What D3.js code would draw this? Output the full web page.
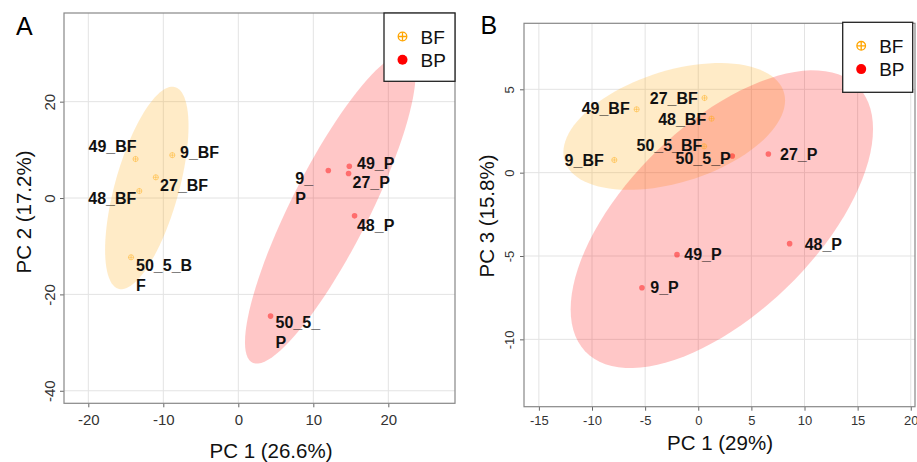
<!DOCTYPE html>
<html>
<head>
<meta charset="utf-8" />
<title>PCA BF vs BP</title>
<script src="https://cdnjs.cloudflare.com/ajax/libs/d3/7.8.5/d3.min.js"></script>
<style>
  body { margin: 0; background: #fff; }
  svg { font-family: "Liberation Sans", Arial, sans-serif; }
</style>
</head>
<body>
<svg id="chart" width="917" height="462"></svg>
<script>
// sample ids, same order in every array below
const samples = ["9", "27", "48", "49", "50_5"]
const groups = ["BF", "BP"]

// panel A : PC1 (26.6%) vs PC2 (17.2%)
const pcA_BF_x = [-8.8, -11.0, -13.2, -13.7, -14.3]
const pcA_BF_y = [8.9, 4.3, 1.45, 8.1, -12.3]
const pcA_BP_x = [12.0, 14.7, 15.5, 14.8, 4.3]
const pcA_BP_y = [5.7, 5.1, -3.7, 6.6, -24.5]
const labelsA_BF = ["9_BF", "27_BF", "48_BF", "49_BF", "50_5_B\nF"]
const labelsA_BP = ["9_\nP", "27_P", "48_P", "49_P", "50_5_\nP"]

// panel B : PC1 (29%) vs PC3 (15.8%)
const pcB_BF_x = [-7.9, 0.59, 1.25, -5.8, 0.55]
const pcB_BF_y = [0.76, 4.48, 3.24, 3.8, 1.58]
const pcB_BP_x = [-5.3, 6.6, 8.6, -2.0, 3.2]
const pcB_BP_y = [-6.9, 1.12, -4.26, -4.92, 1.0]
const labelsB_BF = ["9_BF", "27_BF", "48_BF", "49_BF", "50_5_BF"]
const labelsB_BP = ["9_P", "27_P", "48_P", "49_P", "50_5_P"]

const ticksA_x = [-20, -10, 0, 10, 20]
const ticksA_y = [-40, -20, 0, 20]
const ticksB_x = [-15, -10, -5, 0, 5, 10, 15, 20]
const ticksB_y = [-10, -5, 0, 5]

// label nudges in px (text start, first baseline) — repel-style placement
const nudgeA = {
  BF: [[7.7, 2.7], [4.3, 13.7], [-51, 13], [-47, -7], [5, 13.4]],
  BP: [[-33, 13.3], [4, 14.4], [2.4, 15], [7.7, 2.3], [5, 12]]
}
const nudgeB = {
  BF: [[-49.7, 6], [-54.7, 6.3], [-53.4, 6.7], [-55, 5], [-67.6, 4.7]],
  BP: [[8.3, 5.4], [11.7, 6.3], [15, 6], [7.3, 5.7], [-56.7, 7.6]]
}

const colors = { BF: "#FFA500", BP: "#FF0000" }
const chi95 = Math.sqrt(5.991465) // sqrt(qchisq(0.95, 2))

const svg = d3.select("#chart")

function ellipsePoints(xs, ys) {
  let n = xs.length
  let mx = d3.mean(xs), my = d3.mean(ys)
  let sxx = d3.sum(xs, d => (d - mx) * (d - mx)) / (n - 1)
  let syy = d3.sum(ys, d => (d - my) * (d - my)) / (n - 1)
  let sxy = d3.sum(xs.map((d, i) => (d - mx) * (ys[i] - my))) / (n - 1)
  let a = Math.sqrt(sxx), b = sxy / a, c = Math.sqrt(syy - b * b)
  return d3.range(0, 100).map(i => {
    let t = i / 100 * 2 * Math.PI
    let u = Math.cos(t), v = Math.sin(t)
    return [mx + chi95 * a * u, my + chi95 * (b * u + c * v)]
  })
}

function drawPanel(cfg) {
  let g = svg.append("g")
  let x = d3.scaleLinear().domain(cfg.xDomain).range([cfg.left, cfg.right])
  let y = d3.scaleLinear().domain(cfg.yDomain).range([cfg.bottom, cfg.top])

  g.append("clipPath").attr("id", "clip" + cfg.id)
    .append("rect")
    .attr("x", cfg.left).attr("y", cfg.top)
    .attr("width", cfg.right - cfg.left).attr("height", cfg.bottom - cfg.top)

  // grid
  g.selectAll(".vgrid").data(cfg.xTicks).enter().append("line")
    .attr("x1", d => x(d)).attr("x2", d => x(d))
    .attr("y1", cfg.top).attr("y2", cfg.bottom)
    .attr("stroke", "#e3e3e3").attr("stroke-width", 1)
  g.selectAll(".hgrid").data(cfg.yTicks).enter().append("line")
    .attr("x1", cfg.left).attr("x2", cfg.right)
    .attr("y1", d => y(d)).attr("y2", d => y(d))
    .attr("stroke", "#e3e3e3").attr("stroke-width", 1)

  let plot = g.append("g").attr("clip-path", "url(#clip" + cfg.id + ")")
  let line = d3.line().x(d => x(d[0])).y(d => y(d[1])).curve(d3.curveLinearClosed)

  // ellipses
  groups.forEach(grp => {
    plot.append("path")
      .attr("d", line(ellipsePoints(cfg.data[grp].x, cfg.data[grp].y)))
      .attr("fill", colors[grp]).attr("fill-opacity", 0.22)
      .attr("stroke", "none")
  })

  // points
  groups.forEach(grp => {
    let pts = cfg.data[grp].x.map((d, i) => [d, cfg.data[grp].y[i]])
    if (grp === "BF") {
      let s = plot.selectAll(".bf").data(pts).enter().append("g")
        .attr("transform", d => "translate(" + x(d[0]) + "," + y(d[1]) + ")")
        .attr("stroke", colors.BF).attr("stroke-opacity", 0.45)
        .attr("fill", "none").attr("stroke-width", 0.9)
      s.append("circle").attr("r", 2.6)
      s.append("path").attr("d", "M-2.6,0H2.6M0,-2.6V2.6")
    } else {
      plot.selectAll(".bp").data(pts).enter().append("circle")
        .attr("cx", d => x(d[0])).attr("cy", d => y(d[1]))
        .attr("r", 2.8).attr("fill", colors.BP).attr("fill-opacity", 0.45)
    }
  })

  // labels
  groups.forEach(grp => {
    let pts = cfg.data[grp].x.map((d, i) => [d, cfg.data[grp].y[i]])
    pts.forEach((p, i) => {
      let nd = cfg.nudge[grp][i]
      let t = g.append("text")
        .attr("x", x(p[0]) + nd[0]).attr("y", y(p[1]) + nd[1])
        .attr("font-size", 16).attr("font-weight", "bold").attr("fill", "#111")
      cfg.data[grp].labels[i].split("\n").forEach((s, k) => {
        t.append("tspan").attr("x", x(p[0]) + nd[0])
          .attr("dy", k === 0 ? 0 : 20).text(s)
      })
    })
  })

  // axes (plain hyphen minus like the original)
  let fmt = d => String(d)
  let xAxis = d3.axisBottom(x).tickValues(cfg.xTicks).tickFormat(fmt).tickSize(4).tickPadding(3)
  let ax = g.append("g").attr("transform", "translate(0," + cfg.bottom + ")").call(xAxis)
  ax.select(".domain").remove()
  ax.selectAll("line").attr("stroke", "#666")
  ax.selectAll("text").attr("font-size", cfg.tickSize).attr("fill", "#333")
    .attr("font-family", "Liberation Sans, Arial, sans-serif")
    .attr("dy", null).attr("y", cfg.xTickBase - cfg.bottom)

  let yAxis = d3.axisLeft(y).tickValues(cfg.yTicks).tickFormat(fmt).tickSize(4)
  let ay = g.append("g").attr("transform", "translate(" + cfg.left + ",0)").call(yAxis)
  ay.select(".domain").remove()
  ay.selectAll("line").attr("stroke", "#666")
  ay.selectAll("text").attr("font-size", cfg.tickSize).attr("fill", "#333")
    .attr("font-family", "Liberation Sans, Arial, sans-serif")
    .attr("transform", "rotate(-90)").attr("text-anchor", "middle")
    .attr("x", 0).attr("dy", null).attr("y", -(cfg.left - cfg.yTickBase))

  // panel border
  g.append("rect")
    .attr("x", cfg.left).attr("y", cfg.top)
    .attr("width", cfg.right - cfg.left).attr("height", cfg.bottom - cfg.top)
    .attr("fill", "none").attr("stroke", "#888").attr("stroke-width", 1.2)

  // axis titles
  g.append("text").attr("x", cfg.xTitle[0]).attr("y", cfg.xTitle[1])
    .attr("text-anchor", "middle").attr("font-size", 20.5).attr("fill", "#111")
    .text(cfg.xLabel)
  g.append("text")
    .attr("transform", "translate(" + cfg.yTitle[0] + "," + cfg.yTitle[1] + ") rotate(-90)")
    .attr("text-anchor", "middle").attr("font-size", 20.5).attr("fill", "#111")
    .text(cfg.yLabel)

  // panel letter
  g.append("text").attr("x", cfg.letterPos[0]).attr("y", cfg.letterPos[1])
    .attr("font-size", 25).attr("fill", "#000").text(cfg.id)

  // legend
  let lg = cfg.legend
  g.append("rect").attr("x", lg.x).attr("y", lg.y).attr("width", lg.w).attr("height", lg.h)
    .attr("fill", "#fff").attr("stroke", "#222").attr("stroke-width", 1.3)
  groups.forEach((grp, i) => {
    let cy = lg.y + 23.5 + i * 23.3
    let cx = lg.x + 18.5
    if (grp === "BF") {
      let s = g.append("g").attr("transform", "translate(" + cx + "," + cy + ")")
        .attr("stroke", colors.BF).attr("fill", "none").attr("stroke-width", 1.3)
      s.append("circle").attr("r", 4.3)
      s.append("path").attr("d", "M-4.3,0H4.3M0,-4.3V4.3")
    } else {
      g.append("circle").attr("cx", cx).attr("cy", cy).attr("r", 5).attr("fill", colors.BP)
    }
    g.append("text").attr("x", lg.x + 36.5).attr("y", cy + 7)
      .attr("font-size", 19).attr("fill", "#111").text(grp)
  })
}

drawPanel({
  id: "A",
  left: 64, right: 455, top: 13, bottom: 403.3,
  xDomain: [-23.24, 28.89], yDomain: [-42.6, 38.4],
  xTicks: ticksA_x, yTicks: ticksA_y,
  tickSize: 15, xTickBase: 425.5, yTickBase: 55,
  data: {
    BF: { x: pcA_BF_x, y: pcA_BF_y, labels: labelsA_BF },
    BP: { x: pcA_BP_x, y: pcA_BP_y, labels: labelsA_BP }
  },
  nudge: nudgeA,
  xLabel: "PC 1 (26.6%)", yLabel: "PC 2 (17.2%)",
  xTitle: [271, 458], yTitle: [31, 212],
  letterPos: [16, 35],
  legend: { x: 384, y: 13, w: 71, h: 68.3 }
})

drawPanel({
  id: "B",
  left: 524, right: 915, top: 23.3, bottom: 406.7,
  xDomain: [-16.4, 20.4], yDomain: [-14.04, 8.96],
  xTicks: ticksB_x, yTicks: ticksB_y,
  tickSize: 13, xTickBase: 425, yTickBase: 513.5,
  data: {
    BF: { x: pcB_BF_x, y: pcB_BF_y, labels: labelsB_BF },
    BP: { x: pcB_BP_x, y: pcB_BP_y, labels: labelsB_BP }
  },
  nudge: nudgeB,
  xLabel: "PC 1 (29%)", yLabel: "PC 3 (15.8%)",
  xTitle: [720, 450], yTitle: [494, 216],
  letterPos: [480.5, 34],
  legend: { x: 842.7, y: 22.3, w: 70, h: 70 }
})
</script>
</body>
</html>
